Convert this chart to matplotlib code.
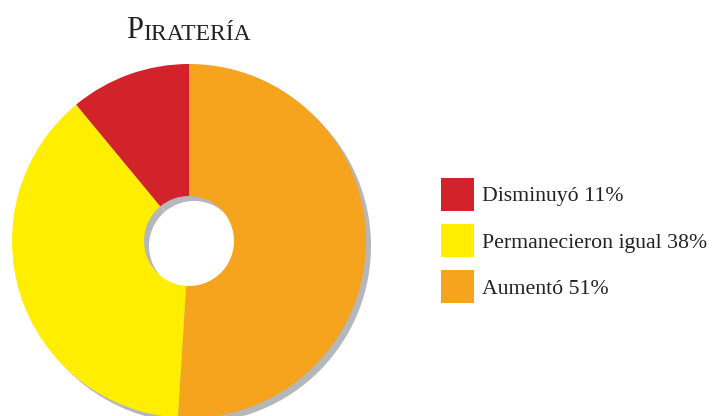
import matplotlib.pyplot as plt

# data
labels = ["Aumentó", "Permanecieron igual", "Disminuyó"]
values = [51, 38, 11]
colors = ["#F6A31E", "#FFEE00", "#D2232A"]
title_first = "P"
title_rest = "IRATERÍA"

plt.rcParams['font.family'] = ['Liberation Serif', 'DejaVu Serif']

fig = plt.figure(figsize=(7.12, 4.16), dpi=100)
ax = fig.add_axes([0, 0, 1, 1])

cx, cy, R = 189, 416 - 241, 177
ring = 1 - 45 / R

# grey drop shadow under the ring
ax.pie(values, radius=R, center=(cx + 5, cy - 5), startangle=90, counterclock=False,
       colors=["#B5B7BA"] * 3, wedgeprops=dict(width=R * ring, linewidth=0))
wedges, _ = ax.pie(values, radius=R, center=(cx, cy), startangle=90, counterclock=False,
                   colors=colors, wedgeprops=dict(width=R * ring, linewidth=0))

ax.set_xlim(0, 712)
ax.set_ylim(0, 416)
ax.set_aspect('equal')
ax.axis('off')

# title in small caps
t = ax.text(126, 416 - 38, title_first, fontsize=22, color="#222222", va='baseline', ha='left')
ax.annotate(title_rest, xy=(1, 0), xycoords=t, va='bottom', ha='left',
            fontsize=17, color="#222222")

# legend in reverse order
order = [2, 1, 0]
handles = [wedges[i] for i in order]
names = [f"{labels[i]} {values[i]}%" for i in order]
fs = 15.7
leg = ax.legend(handles, names, loc='upper left', bbox_to_anchor=(441, 416 - 178),
                bbox_transform=ax.transData, frameon=False, fontsize=fs,
                handlelength=1.5, handleheight=1.95, handletextpad=0.4,
                labelspacing=0.6, borderpad=0, borderaxespad=0)
for txt in leg.get_texts():
    txt.set_color("#222222")

fig.savefig("out.png", dpi=100)
